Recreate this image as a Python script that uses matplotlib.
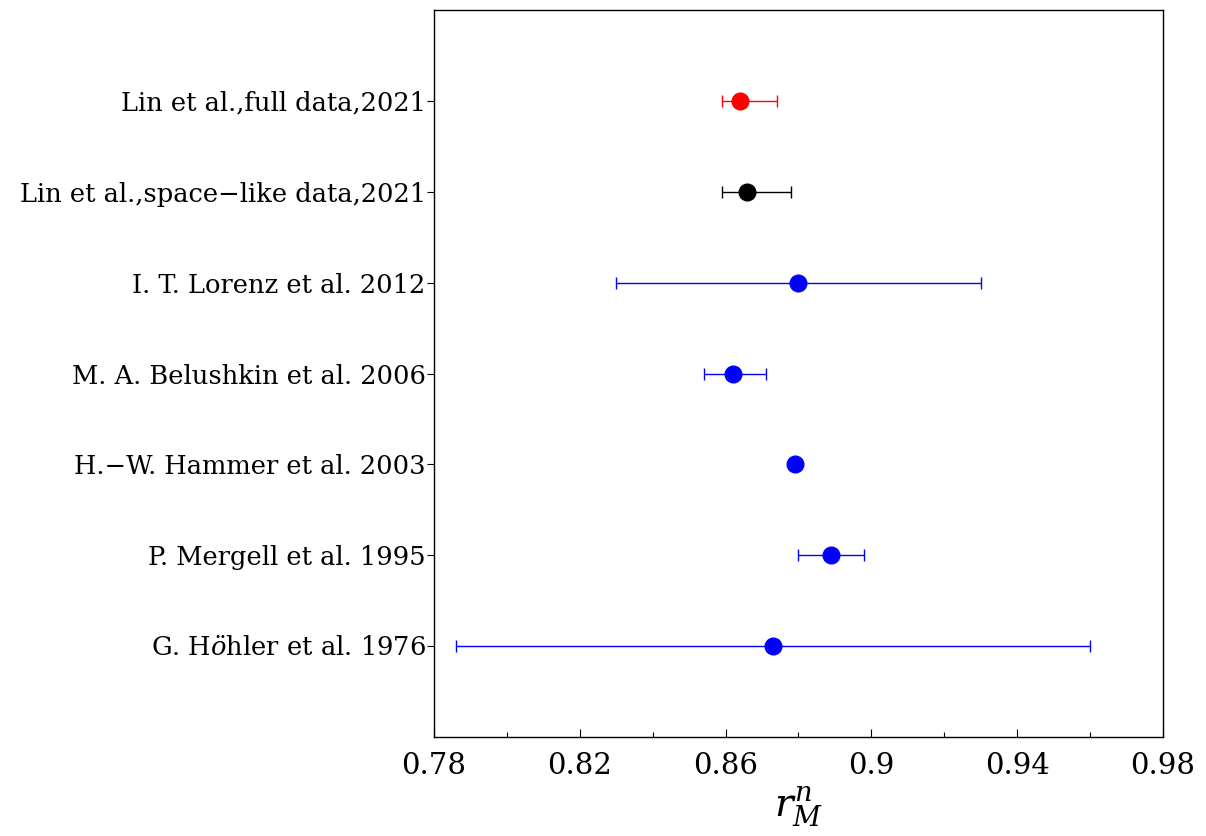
import matplotlib
matplotlib.use("Agg")
import matplotlib.pyplot as plt
from matplotlib.ticker import MultipleLocator

plt.rcParams["font.family"] = "DejaVu Serif"
plt.rcParams["mathtext.fontset"] = "dejavuserif"

# Neutron magnetic radius determinations, top to bottom
labels = [
    "Lin et al.,full data,2021",
    "Lin et al.,space\u2212like data,2021",
    "I. T. Lorenz et al. 2012",
    "M. A. Belushkin et al. 2006",
    "H.\u2212W. Hammer et al. 2003",
    "P. Mergell et al. 1995",
    r"G. H$\ddot{o}$hler et al. 1976",
]
values = [0.864, 0.866, 0.880, 0.862, 0.879, 0.889, 0.873]
err_lo = [0.005, 0.007, 0.050, 0.008, 0.0, 0.009, 0.087]
err_hi = [0.010, 0.012, 0.050, 0.009, 0.0, 0.009, 0.087]
colors = ["#ff0000", "#000000", "#0000ff", "#0000ff", "#0000ff", "#0000ff", "#0000ff"]
xticks = [0.78, 0.82, 0.86, 0.90, 0.94, 0.98]
xtick_labels = ["0.78", "0.82", "0.86", "0.9", "0.94", "0.98"]

fig = plt.figure(figsize=(12.06, 8.36), dpi=100)
ax = fig.add_axes([0.3599, 0.1184, 0.6044, 0.8696])

n = len(labels)
ypos = [n - i for i in range(n)]
for y, v, lo, hi, c in zip(ypos, values, err_lo, err_hi, colors):
    ax.errorbar(v, y, xerr=[[lo], [hi]], fmt="o", color=c, ecolor=c,
                elinewidth=1.0, capsize=4, capthick=1.0, markersize=12,
                markeredgewidth=1.0, markeredgecolor=c)

ax.set_xlim(0.78, 0.98)
ax.set_ylim(0, n + 1)
ax.set_xticks(xticks)
ax.set_xticklabels(xtick_labels)
ax.xaxis.set_minor_locator(MultipleLocator(0.02))
ax.set_yticks(ypos)
ax.set_yticklabels(labels)

ax.tick_params(axis="x", which="major", direction="in", length=6, width=0.8,
               labelsize=21, pad=11, top=False)
ax.tick_params(axis="x", which="minor", direction="in", length=3.5, width=0.8,
               top=False)
ax.tick_params(axis="y", which="major", direction="out", length=5, width=0.8,
               labelsize=18.5, pad=1, right=False)

for sp in ax.spines.values():
    sp.set_linewidth(1.0)

ax.set_xlabel(r"$r_M^n$", fontsize=28, labelpad=3)

fig.savefig("out.png", dpi=100)
